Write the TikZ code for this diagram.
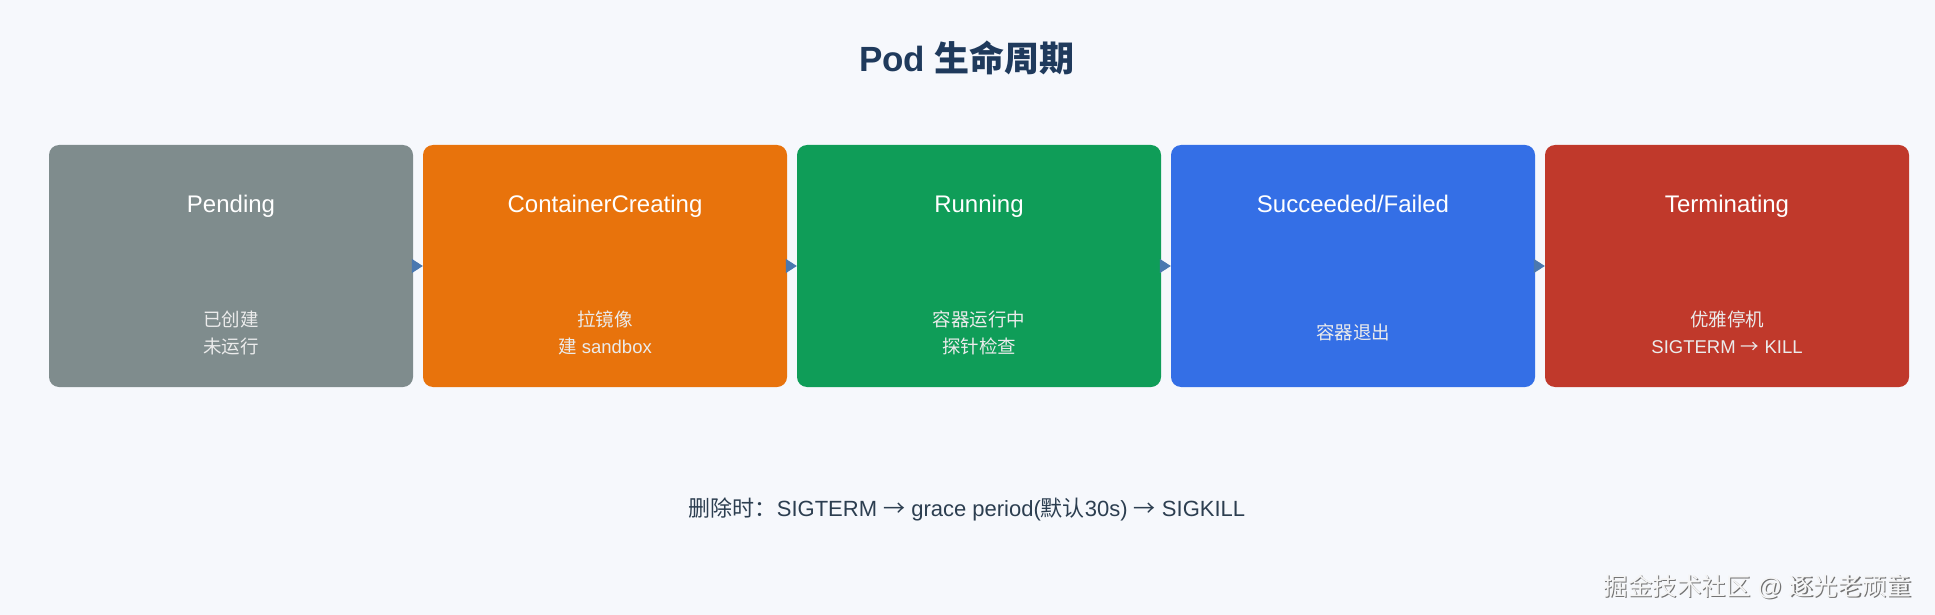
\documentclass[tikz,border=0pt]{standalone}
\usepackage{fontspec}
\setmainfont{Liberation Sans}
\newfontfamily\cjk{Noto Sans CJK SC}
\usetikzlibrary{arrows.meta}
\definecolor{bgc}{HTML}{F6F8FC}
\definecolor{titlec}{HTML}{1F3A5C}
\definecolor{textc}{HTML}{2C3E50}
\definecolor{arrowc}{HTML}{4A78B0}
\definecolor{c1}{HTML}{7F8C8D}
\definecolor{c2}{HTML}{E8730C}
\definecolor{c3}{HTML}{0F9D58}
\definecolor{c4}{HTML}{346FE6}
\definecolor{c5}{HTML}{C0392B}
\newcommand{\ra}{{\cjk →}}
\tikzset{
  statebox/.style={rounded corners=10pt, minimum width=364pt, minimum height=242pt, inner sep=0pt, draw=none},
  boxtitle/.style={text=white, anchor=base, font=\fontsize{24}{28}\selectfont},
  boxsub/.style={text=white!92!black, align=center, anchor=base, font=\fontsize{18.5}{27}\selectfont},
  flow/.style={draw=arrowc, line width=1pt, -{Triangle[length=11pt,width=14pt]}, arrowc},
}
\begin{document}
\begin{tikzpicture}[x=1pt,y=-1pt]
\fill[bgc] (0,0) rectangle (1935,615);
\useasboundingbox (0,0) rectangle (1935,615);
\node[text=titlec, font=\fontsize{35}{40}\selectfont\bfseries] (title) at (967,58) {Pod {\cjk 生命周期}};
% boxes
\node[statebox, fill=c1] (s1) at (231,266) {};
\node[statebox, fill=c2] (s2) at (605,266) {};
\node[statebox, fill=c3] (s3) at (979,266) {};
\node[statebox, fill=c4] (s4) at (1353,266) {};
\node[statebox, fill=c5] (s5) at (1727,266) {};
\draw[flow] (s1.east) -- (s2.west);
\draw[flow] (s2.east) -- (s3.west);
\draw[flow] (s3.east) -- (s4.west);
\draw[flow] (s4.east) -- (s5.west);
\node[boxtitle] (t1) at (231,212) {Pending};
\node[boxtitle] (t2) at (605,212) {ContainerCreating};
\node[boxtitle] (t3) at (979,212) {Running};
\node[boxtitle] (t4) at (1353,212) {Succeeded/Failed};
\node[boxtitle] (t5) at (1727,212) {Terminating};
\node[boxsub] (d1) at (231,353) {{\cjk 已创建}\\{\cjk 未运行}};
\node[boxsub] (d2) at (605,353) {{\cjk 拉镜像}\\{\cjk 建} sandbox};
\node[boxsub] (d3) at (979,353) {{\cjk 容器运行中}\\{\cjk 探针检查}};
\node[boxsub] (d4) at (1353,339) {{\cjk 容器退出}};
\node[boxsub] (d5) at (1727,353) {{\cjk 优雅停机}\\SIGTERM \ra{} KILL};
\node[text=textc, font=\fontsize{22}{26}\selectfont] (note) at (967,509) {{\cjk 删除时：}SIGTERM \ra{} grace period({\cjk 默认}30s) \ra{} SIGKILL};
\node[text=black!55, font=\fontsize{24.5}{28}\selectfont, anchor=east] (wm0) at (1916.2,588.2) {{\cjk 掘金技术社区} @ {\cjk 逐光老顽童}};
\node[text=white!96!black, font=\fontsize{24.5}{28}\selectfont, anchor=east] (wm) at (1915,587) {{\cjk 掘金技术社区} @ {\cjk 逐光老顽童}};
\end{tikzpicture}
\end{document}
